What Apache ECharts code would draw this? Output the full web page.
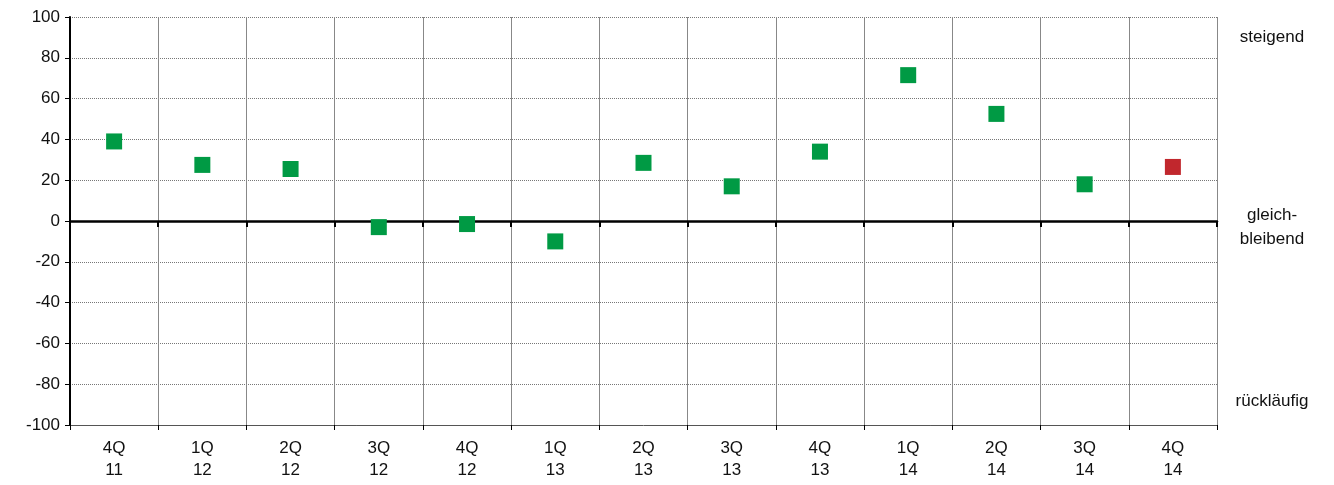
<!DOCTYPE html>
<html><head><meta charset="utf-8">
<script src="https://cdn.jsdelivr.net/npm/echarts@6/dist/echarts.min.js"></script>
<style>html,body{margin:0;padding:0;background:#fff}#main{width:1334px;height:485px}</style>
</head><body><div id="main"></div>
<script>
var categories = ['4Q\n11','1Q\n12','2Q\n12','3Q\n12','4Q\n12','1Q\n13','2Q\n13','3Q\n13','4Q\n13','1Q\n14','2Q\n14','3Q\n14','4Q\n14'];
var values = [39, 27.5, 25.5, -3, -1.5, -10, 28.5, 17, 34, 71.5, 52.5, 18, 26.5];
var sideLabels = ['steigend', 'gleich-\nbleibend', 'rückläufig'];

var chart = echarts.init(document.getElementById('main'));
var font = 'Liberation Sans, Arial, sans-serif';
var pts = values.map(function (v, i) {
    return {value: v, itemStyle: {color: i === values.length - 1 ? '#c1272d' : '#009a44', opacity: 1}};
});
chart.setOption({
    animation: false,
    grid: {left: 70, right: 117, top: 17, bottom: 60},
    xAxis: [{
        type: 'category', data: categories, position: 'bottom',
        axisLine: {onZero: false, lineStyle: {color: '#555', width: 1}},
        axisTick: {show: true, length: 5, lineStyle: {color: '#000'}},
        axisLabel: {color: '#111', fontFamily: font, fontSize: 17, lineHeight: 22, margin: 12},
        splitLine: {show: true, lineStyle: {color: '#888', width: 1}}
    }, {
        type: 'category', data: categories, position: 'bottom',
        axisLine: {onZero: true, lineStyle: {color: '#000', width: 2.5}},
        axisTick: {show: true, length: 6, lineStyle: {color: '#000', width: 2}},
        axisLabel: {show: false}
    }],
    yAxis: {
        type: 'value', min: -100, max: 100, interval: 20,
        axisLine: {show: true, lineStyle: {color: '#000', width: 2}},
        axisTick: {show: true, length: 5, lineStyle: {color: '#000'}},
        axisLabel: {color: '#111', fontFamily: font, fontSize: 17, margin: 10},
        splitLine: {show: true, lineStyle: {color: '#777', type: [1, 1], width: 1}}
    },
    series: [{
        type: 'scatter', xAxisIndex: 0, symbol: 'rect', symbolSize: 16,
        itemStyle: {opacity: 1},
        data: pts
    }],
    graphic: [
        {type: 'text', x: 1272, y: 29, style: {text: sideLabels[0], font: '17px ' + font, fill: '#111', textAlign: 'center'}},
        {type: 'text', x: 1272, y: 203, style: {text: sideLabels[1], font: '17px ' + font, fill: '#111', lineHeight: 24, textAlign: 'center'}},
        {type: 'text', x: 1272, y: 393, style: {text: sideLabels[2], font: '17px ' + font, fill: '#111', textAlign: 'center'}}
    ]
});
</script></body></html>
